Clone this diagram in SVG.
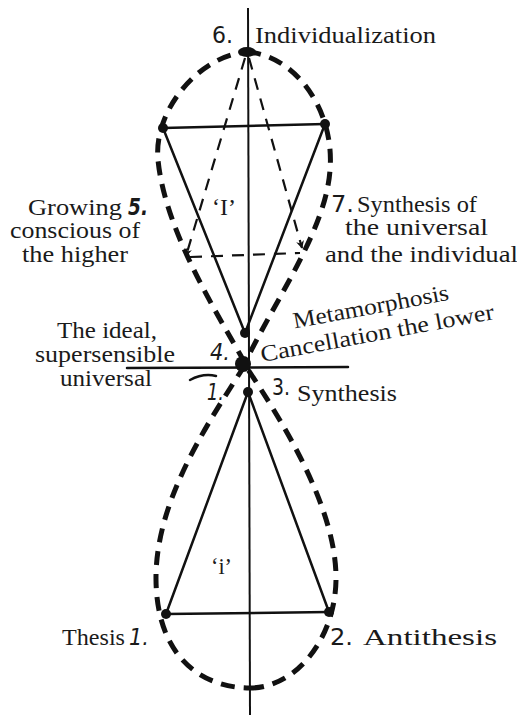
<svg xmlns="http://www.w3.org/2000/svg" width="517" height="715" viewBox="0 0 517 715">
<style>
.lbl{font-family:"Liberation Serif","Times New Roman",serif;font-size:23px;fill:#1a1a1a}
.num{font-family:"DejaVu Sans","Liberation Sans",sans-serif;font-size:23px;fill:#1a1a1a}
.solid{stroke:#111;stroke-width:2.5;fill:none;stroke-linecap:round}
.axis{stroke:#111;stroke-width:2;fill:none}
.loop{stroke:#111;stroke-width:5;fill:none;stroke-dasharray:14 9}
.thin{stroke:#111;stroke-width:2.2;fill:none;stroke-dasharray:12 9}
.dot{fill:#111}
</style>
<defs>
<marker id="arr" viewBox="0 0 10 10" refX="9" refY="5" markerWidth="8" markerHeight="8" orient="auto" markerUnits="userSpaceOnUse">
<path d="M0,0 L10,5 L0,10 L3,5 z" fill="#111"/>
</marker>
</defs>
<g id="connectors">
<line class="axis" x1="248" y1="8" x2="250" y2="715"/>
<line class="solid" x1="127" y1="368" x2="348" y2="367"/>
<path class="loop" d="M245,363 C215,310 165,230 158,160 C153,110 200,55 247,52"/>
<path class="loop" d="M247,52 C295,55 335,110 330,170 C326,230 275,300 245,363"/>
<path class="loop" d="M245,365 C210,420 155,500 156,580 C157,660 205,688 250,688"/>
<path class="loop" d="M250,688 C295,688 335,640 336,580 C337,510 285,425 245,365"/>
<line class="solid" x1="163" y1="128" x2="325" y2="124"/>
<line class="solid" x1="163" y1="128" x2="245" y2="333"/>
<line class="solid" x1="325" y1="124" x2="245" y2="333"/>
<line class="solid" x1="248" y1="392" x2="166" y2="614"/>
<line class="solid" x1="248" y1="392" x2="329" y2="612"/>
<line class="solid" x1="166" y1="614" x2="329" y2="612"/>
<path class="thin" d="M245,58 L186,256" marker-end="url(#arr)"/>
<path class="thin" d="M249,58 L302,248" marker-end="url(#arr)"/>
<line class="thin" x1="190" y1="257" x2="300" y2="253"/>
<path class="solid" d="M190,380 Q203,373 216,376"/>
</g>
<g id="n6">
<ellipse class="dot" cx="247" cy="52" rx="9" ry="5"/>
<text class="num" x="212" y="43" textLength="21" lengthAdjust="spacingAndGlyphs">6.</text>
<text class="lbl" x="255" y="43" textLength="181" lengthAdjust="spacingAndGlyphs">Individualization</text>
</g>
<g id="v-left-top"><circle class="dot" cx="163" cy="128" r="5"/></g>
<g id="v-right-top"><circle class="dot" cx="325" cy="124" r="5"/></g>
<g id="n4"><circle class="dot" cx="245" cy="333" r="5"/>
<text class="num" x="210" y="360" textLength="20" lengthAdjust="spacingAndGlyphs" font-style="italic">4.</text></g>
<g id="center"><circle class="dot" cx="243" cy="364" r="8"/></g>
<g id="n3"><circle class="dot" cx="248" cy="392" r="5"/>
<text class="num" x="207" y="400" textLength="17" lengthAdjust="spacingAndGlyphs" font-style="italic">1.</text>
<text class="num" x="272" y="395" textLength="18" lengthAdjust="spacingAndGlyphs">3.</text>
<text class="lbl" x="297" y="401" textLength="100" lengthAdjust="spacingAndGlyphs">Synthesis</text></g>
<g id="n1"><circle class="dot" cx="166" cy="614" r="5"/>
<text class="lbl" x="62" y="645" textLength="63" lengthAdjust="spacingAndGlyphs">Thesis</text>
<text class="num" x="129" y="645" textLength="20" lengthAdjust="spacingAndGlyphs" font-style="italic">1.</text></g>
<g id="n2"><circle class="dot" cx="329" cy="612" r="5"/>
<text class="num" x="330" y="645" textLength="23" lengthAdjust="spacingAndGlyphs">2.</text>
<text class="lbl" x="363" y="645" textLength="134" lengthAdjust="spacingAndGlyphs">Antithesis</text></g>
<g id="n5">
<text class="lbl" x="28" y="215" textLength="94" lengthAdjust="spacingAndGlyphs">Growing</text>
<text class="num" x="128" y="215" textLength="20" lengthAdjust="spacingAndGlyphs" font-style="italic" font-weight="bold">5.</text>
<text class="lbl" x="10" y="238" textLength="130" lengthAdjust="spacingAndGlyphs">conscious of</text>
<text class="lbl" x="22" y="262" textLength="106" lengthAdjust="spacingAndGlyphs">the higher</text>
</g>
<g id="n7">
<text class="num" x="331" y="212" textLength="23" lengthAdjust="spacingAndGlyphs">7.</text>
<text class="lbl" x="357" y="212" textLength="120" lengthAdjust="spacingAndGlyphs">Synthesis of</text>
<text class="lbl" x="345" y="235" textLength="143" lengthAdjust="spacingAndGlyphs">the universal</text>
<text class="lbl" x="325" y="262" textLength="193" lengthAdjust="spacingAndGlyphs">and the individual</text>
</g>
<g id="ideal">
<text class="lbl" x="57" y="338" textLength="100" lengthAdjust="spacingAndGlyphs">The ideal,</text>
<text class="lbl" x="35" y="362" textLength="140" lengthAdjust="spacingAndGlyphs">supersensible</text>
<text class="lbl" x="60" y="386" textLength="92" lengthAdjust="spacingAndGlyphs">universal</text>
</g>
<g id="metamorphosis" transform="translate(262,362) rotate(-10.5)">
<text class="lbl" x="38" y="-27" textLength="158" lengthAdjust="spacingAndGlyphs">Metamorphosis</text>
<text class="lbl" x="0" y="0" textLength="237" lengthAdjust="spacingAndGlyphs">Cancellation the lower</text>
</g>
<g id="I-upper"><text class="lbl" x="212" y="215" textLength="24" lengthAdjust="spacingAndGlyphs">‘I’</text></g>
<g id="i-lower"><text class="lbl" x="211" y="574" textLength="21" lengthAdjust="spacingAndGlyphs">‘i’</text></g>
</svg>
